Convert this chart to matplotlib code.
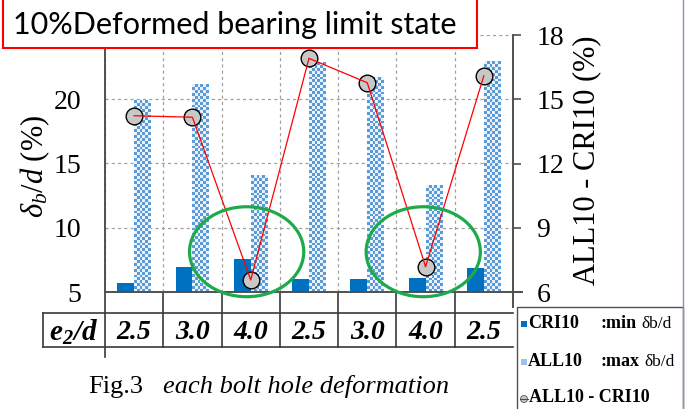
import numpy as np
import matplotlib.pyplot as plt
from matplotlib.patches import Rectangle, Ellipse
from matplotlib.colors import ListedColormap

plt.rcParams['font.family'] = ['Liberation Serif', 'DejaVu Serif']
plt.rcParams['mathtext.fontset'] = 'custom'
plt.rcParams['mathtext.rm'] = 'Liberation Serif'
plt.rcParams['mathtext.it'] = 'Liberation Serif:italic'
plt.rcParams['mathtext.bf'] = 'Liberation Serif:bold:italic'

# valores
e2d = ['2.5', '3.0', '4.0', '2.5', '3.0', '4.0', '2.5']
cri10 = [5.68, 6.92, 7.54, 5.99, 5.99, 6.09, 6.87]
all10 = [19.89, 21.11, 14.05, 22.87, 21.68, 13.25, 22.92]
diff = [14.23, 14.16, 6.56, 16.91, 15.77, 7.18, 16.10]

W, H = 685, 409
fig = plt.figure(figsize=(W / 100, H / 100), dpi=100)


def fx(x):
    return x / W


def fy(y):
    return 1 - y / H


ax = fig.add_axes([fx(105), fy(292), 408 / W, 257 / H])
x = np.arange(len(e2d))
bw = 0.29
blue = '#0070C0'
chk = ListedColormap(['#EAF2FB', '#5A9AD6'])

ax.bar(x - bw, np.array(cri10) - 5, bw, bottom=5, align='edge', color=blue, zorder=2)
hb = ax.bar(x, np.array(all10) - 5, bw, bottom=5, align='edge', color='none', zorder=2)
for p in hb:
    x0, w, y0, h = p.get_x(), p.get_width(), p.get_y(), p.get_height()
    nr = max(1, int(round(h * 12.85 / 2.9)))
    grid = np.add.outer(np.arange(nr), np.arange(6)) % 2
    ax.imshow(grid, extent=[x0, x0 + w, y0, y0 + h], origin='lower', cmap=chk,
              interpolation='nearest', aspect='auto', zorder=2)

ax.set_xlim(-0.5, 6.5)
ax.set_ylim(5, 25)
ax.set_yticks([5, 10, 15, 20, 25])
ax.set_yticklabels(['5', '10', '15', '20', ''])
ax.set_xticks(np.arange(-0.5, 7, 1))
ax.set_xticklabels([])
ax.grid(True, color='#A0A0A0', linestyle=(0, (2.5, 2.5)), lw=0.9, zorder=0)
ax.set_axisbelow(True)
ax.tick_params(axis='y', length=0, pad=17, labelsize=20)
ax.tick_params(axis='x', length=0)
for s in ['top', 'right']:
    ax.spines[s].set_visible(False)
for s in ['left', 'bottom']:
    ax.spines[s].set_color('#505050')
    ax.spines[s].set_linewidth(1.4)

ax2 = ax.twinx()
ax2.set_ylim(6, 18)
ax2.set_yticks([6, 9, 12, 15, 18])
ax2.tick_params(axis='y', length=6, width=1.2, color='#505050', pad=11, labelsize=20)
for s in ['top', 'left', 'bottom']:
    ax2.spines[s].set_visible(False)
ax2.spines['right'].set_color('#505050')
ax2.spines['right'].set_linewidth(1.4)

ax2.plot(x, diff, 'o', ms=12, mfc='#C8C8C8', mec='black', mew=1, zorder=3)
ax2.plot(x, diff, color='red', lw=0.9, zorder=4)

green = '#1DAA4B'
for cx in [1.93, 4.96]:
    ax2.add_patch(Ellipse((cx, 7.88), 1.96, 4.2, fill=False, ec=green, lw=2.3,
                          zorder=5, clip_on=False))

# tabela abaixo do eixo
tc = '#3A3A3A'
xt = ax.get_xaxis_transform()
for b in np.arange(-0.5, 6, 1):
    bot = -0.253 if b == -0.5 else -0.214
    ax.plot([b, b], [0, bot], color=tc, lw=1.2, transform=xt, clip_on=False)
ax.plot([6.5, 6.5], [0, -0.06], color='#505050', lw=1.4, transform=xt, clip_on=False)
ax.plot([1.0, 1.022], [0, 0], color='#505050', lw=1.4, transform=ax.transAxes, clip_on=False)
for yy in [-0.0817, -0.214]:
    ax.plot([-0.152, 1.0], [yy, yy], color=tc, lw=1.2, transform=ax.transAxes, clip_on=False)
ax.plot([-0.152, -0.152], [-0.0817, -0.214], color=tc, lw=1.2, transform=ax.transAxes,
        clip_on=False)
for i, lab in enumerate(e2d):
    ax.text(i, -0.156, lab, transform=xt, ha='center', va='center', fontsize=20,
            fontweight='bold', fontstyle='italic')
ax.text(-0.078, -0.156, r'$\mathbf{e_2/d}$', transform=ax.transAxes, ha='center',
        va='center', fontsize=21)

# rotulos dos eixos
fig.text(fx(35), fy(166), r'$\delta_b/d$ (%)', rotation=90, ha='center', va='center',
         fontsize=22)
fig.text(fx(587), fy(160), 'ALL10 - CRI10 (%)', rotation=90, ha='center', va='center',
         fontsize=22)

# titulo em caixa
fig.patches.append(Rectangle((fx(3), fy(48)), (477 - 3) / W, 60 / H, transform=fig.transFigure,
                             fc='white', ec='red', lw=1.5, zorder=6))
fig.text(fx(13), fy(34), '10%Deformed bearing limit state', family='Lato', fontsize=22,
         ha='left', va='baseline', zorder=7)

# legenda
fig.patches.append(Rectangle((fx(517), fy(420)), (683 - 517) / W, 113 / H,
                             transform=fig.transFigure, fc='white', ec='#505050', lw=1,
                             zorder=6))
fig.patches.append(Rectangle((fx(521), fy(327)), 6 / W, 6 / H, transform=fig.transFigure,
                             fc=blue, ec='none', zorder=7))
fig.patches.append(Rectangle((fx(521), fy(365)), 6 / W, 6 / H, transform=fig.transFigure,
                             fc='#9DC3E6', ec='none', zorder=7))
fig.patches.append(Ellipse((fx(524), fy(399)), 7 / W, 7 / H, transform=fig.transFigure,
                           fc='#C8C8C8', ec='#555555', lw=0.6, zorder=7))
fig.lines.append(plt.Line2D([fx(520), fx(528)], [fy(399), fy(399)], transform=fig.transFigure,
                            color='red', lw=0.8, zorder=8))
lk = dict(fontsize=13, fontweight='bold', va='center', ha='left', zorder=8)
fig.text(fx(528), fy(323), 'CRI10', **lk)
fig.text(fx(600), fy(323), ':min', **lk)
fig.text(fx(641), fy(324), 'δb/d', fontsize=12.5, va='center', ha='left', zorder=8)
fig.text(fx(528), fy(362), 'ALL10', **lk)
fig.text(fx(600), fy(361), ':max', **lk)
fig.text(fx(644), fy(362), 'δb/d', fontsize=12.5, va='center', ha='left', zorder=8)
fig.text(fx(529), fy(398), 'ALL10 - CRI10', **lk)
fig.lines.append(plt.Line2D([fx(683), fx(683)], [0, 1], transform=fig.transFigure,
                            color='#8497B0', lw=1, zorder=8))

# legenda da figura
fig.text(fx(143), fy(393), 'Fig.3', fontsize=19, ha='right', va='baseline')
fig.text(fx(163), fy(393), 'each bolt hole deformation', fontsize=19, fontstyle='italic',
         ha='left', va='baseline')

fig.savefig('out.png', dpi=100)
